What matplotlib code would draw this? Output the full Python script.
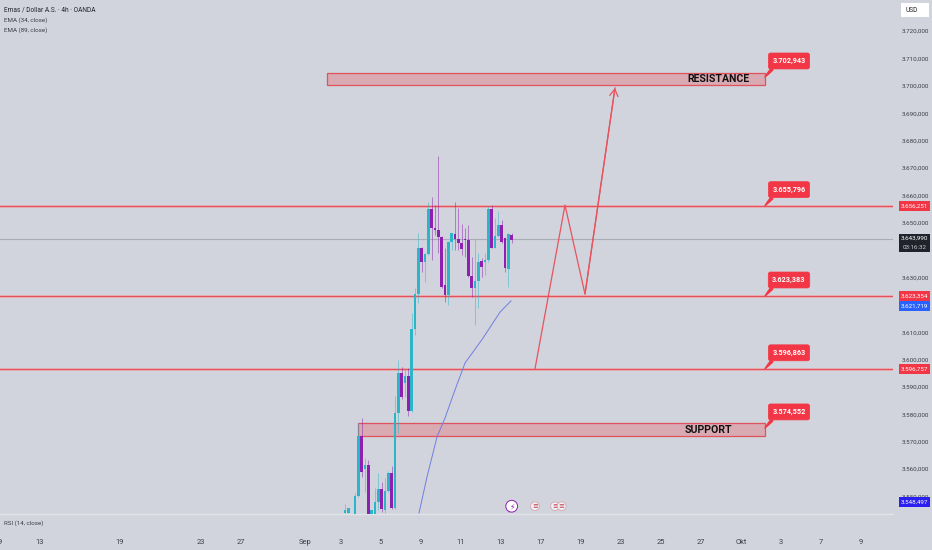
import matplotlib
matplotlib.use("Agg")
import matplotlib.pyplot as plt
from matplotlib.patches import Rectangle

plt.rcParams["font.family"] = ["Roboto", "DejaVu Sans"]

# 4h candles (bar number = position in list)
opens = [3543.9, 3543.9, 3541.0, 3543.6, 3550.2, 3572.0, 3560.0, 3561.4, 3543.6, 3543.6,
         3548.0, 3552.7, 3545.0, 3552.0, 3558.5, 3545.7, 3580.5, 3595.0, 3591.4, 3594.0,
         3581.2, 3611.1, 3623.9, 3640.7, 3635.6, 3638.5, 3655.0, 3648.0, 3647.3, 3644.8,
         3627.2, 3623.6, 3642.9, 3645.8, 3644.0, 3642.6, 3644.0, 3643.6, 3630.5, 3626.1,
         3628.7, 3636.0, 3635.6, 3636.3, 3655.0, 3640.7, 3645.1, 3649.1, 3644.4, 3633.0,
         3645.5]
closes = [3545.0, 3545.7, 3542.0, 3550.2, 3572.0, 3559.0, 3561.4, 3543.6, 3545.0, 3548.0,
          3552.7, 3545.4, 3552.0, 3558.5, 3545.7, 3580.5, 3595.0, 3586.3, 3594.0, 3581.2,
          3611.1, 3623.9, 3640.7, 3635.6, 3638.5, 3655.0, 3648.0, 3647.3, 3644.8, 3626.5,
          3623.6, 3642.9, 3646.2, 3644.0, 3642.6, 3640.4, 3643.6, 3630.5, 3626.1, 3628.7,
          3635.6, 3633.8, 3636.3, 3655.0, 3640.7, 3645.1, 3649.1, 3642.9, 3633.4, 3645.8,
          3643.6]
highs = [3547.2, 3545.7, 3543.0, 3551.2, 3576.8, 3578.6, 3564.0, 3563.3, 3545.0, 3553.0,
         3558.5, 3555.2, 3556.7, 3559.3, 3561.1, 3586.7, 3599.8, 3597.2, 3596.9, 3596.9,
         3617.0, 3626.1, 3646.2, 3641.1, 3638.9, 3657.5, 3659.3, 3656.4, 3674.3, 3645.1,
         3640.7, 3643.3, 3646.2, 3657.5, 3655.3, 3649.5, 3648.0, 3649.1, 3637.4, 3644.0,
         3638.9, 3637.1, 3638.9, 3656.1, 3656.4, 3651.7, 3654.2, 3651.0, 3644.4, 3646.2,
         3646.2]
lows = [3543.6, 3543.6, 3540.0, 3543.6, 3549.8, 3557.1, 3551.6, 3543.6, 3543.6, 3543.6,
        3545.0, 3544.3, 3543.9, 3551.6, 3545.4, 3545.4, 3573.1, 3585.6, 3586.3, 3579.3,
        3580.8, 3608.9, 3620.6, 3632.0, 3628.3, 3638.2, 3636.3, 3645.5, 3638.9, 3626.1,
        3621.0, 3619.9, 3640.0, 3640.0, 3640.0, 3638.2, 3637.4, 3630.1, 3622.8, 3612.6,
        3618.8, 3630.1, 3630.9, 3635.6, 3640.7, 3640.7, 3644.8, 3642.6, 3631.9, 3626.5,
        3642.6]

ema_bars = [22.2, 24.6, 27.6, 30, 33, 36, 41.4, 43, 46.5, 49.8]
ema_vals = [3543.9, 3557.1, 3571.7, 3578.6, 3588.9, 3598.7, 3607.8, 3610.8, 3617.3, 3621.4]

level_prices = [3656.2, 3623.2, 3596.6]
last_price = 3643.99

resistance_zone = (-5.4, 126, 3700.3, 3704.7)
support_zone = (3.9, 126, 3571.9, 3576.8)

path_bars = [57, 66, 72, 81]
path_prices = [3596.6, 3656.4, 3623.9, 3699.2]

callout_labels = ["3.702,943", "3.655,796", "3.623,383", "3.596,863", "3.574,552"]
callout_prices = [3703.2, 3656.2, 3623.2, 3596.6, 3575.0]

y_ticks = [v for v in range(3550, 3730, 10) if v not in (3620, 3640)]
x_ticks = [-103.5, -91.5, -67.5, -43.2, -31.2, -12, -1.2, 10.8, 22.8, 34.8, 46.8,
           58.8, 70.8, 82.8, 94.8, 106.8, 118.8, 130.8, 142.8, 154.8]
x_labels = ["9", "13", "19", "23", "27", "Sep", "3", "5", "9", "11", "13", "17", "19",
            "23", "25", "27", "Okt", "3", "7", "9"]

tag_labels = ["3.656,251", "3.623,354", "3.621,719", "3.596,757", "3.548,497"]
tag_prices = [3656.2, 3623.2, 3619.5, 3596.6, 3547.9]
tag_colors = ["#f23645", "#f23645", "#2962ff", "#f23645", "#2a1ff0"]

BG = "#d1d4dc"
RED = "#f23645"
LINE = "#e0525c"
UP = "#2bb6c8"
DOWN = "#8e1fb0"

fig = plt.figure(figsize=(9.32, 5.5), dpi=100, facecolor=BG)
ax = fig.add_axes([0, 36 / 550, 893 / 932, 514 / 550], facecolor=BG)
ax.set_xlim(-103.5, 164.4)
ax.set_ylim(3543.56, 3731.32)
for s in ax.spines.values():
    s.set_visible(False)
ax.spines["bottom"].set_visible(True)
ax.spines["bottom"].set_color("#e2e4ea")
ax.spines["bottom"].set_linewidth(1.0)

ax.yaxis.tick_right()
ax.set_yticks(y_ticks)
ax.set_yticklabels([f"3.{v - 3000},000" for v in y_ticks], fontsize=4.5, color="#3c3f47")
ax.tick_params(axis="y", length=0, pad=6.5)
ax.set_xticks(x_ticks)
ax.set_xticklabels(x_labels, fontsize=5.4, color="#3c3f47")
ax.tick_params(axis="x", length=0, pad=17.8)

# price levels and zones
ax.axhline(last_price, color="#a9adb6", lw=0.8, zorder=1)
for p in level_prices:
    ax.axhline(p, color="#eeb4b8", lw=2.0, zorder=1)
    ax.axhline(p, color=LINE, lw=0.9, zorder=1.1)

for x0, x1, y0, y1 in [resistance_zone, support_zone]:
    ax.add_patch(Rectangle((x0, y0), x1 - x0, y1 - y0, facecolor="#d9aab2",
                           edgecolor=LINE, lw=0.9, zorder=1.2))

# candles
for i, (o, c, h, l) in enumerate(zip(opens, closes, highs, lows)):
    col = UP if c >= o else DOWN
    ax.vlines(i, l, h, color=col, lw=0.7, alpha=0.5, zorder=2)
    ax.bar(i, abs(c - o), bottom=min(o, c), width=0.85, color=col, linewidth=0, zorder=3)

ax.plot(ema_bars, ema_vals, color="#6f7fe0", lw=0.7, zorder=2.5)

# projected path
ax.plot(path_bars, path_prices, color="#e8535d", lw=0.9, zorder=3)
ax.annotate("", xy=(path_bars[-1], path_prices[-1]), xytext=(path_bars[-2], path_prices[-2]),
            arrowprops=dict(arrowstyle="->,head_length=0.5,head_width=0.3", color="#e8535d", lw=0.9,
                            shrinkA=0, shrinkB=0), zorder=3)

ax.text(112, 3702.4, "RESISTANCE", fontsize=7.6, fontweight="bold",
        color="#111111", ha="center", va="center", zorder=4)
ax.text(109, 3574.3, "SUPPORT", fontsize=7.6, fontweight="bold",
        color="#111111", ha="center", va="center", zorder=4)

# callouts
for label, p in zip(callout_labels, callout_prices):
    ax.annotate(label, xy=(126, p), xytext=(24, 16), textcoords="offset pixels",
                fontsize=5.2, fontweight="bold", color="white", ha="center", va="center",
                bbox=dict(boxstyle="round,pad=0.55,rounding_size=0.3", fc=RED, ec=RED, lw=0.5),
                arrowprops=dict(arrowstyle="wedge,tail_width=0.35,shrink_factor=0.6", fc=RED, ec=RED,
                                shrinkA=0, shrinkB=0, relpos=(0.1, 0.0)),
                zorder=6)

# axis tags
ty = ax.get_yaxis_transform()
px = 0.3653
for label, p, col in zip(tag_labels, tag_prices, tag_colors):
    ax.add_patch(Rectangle((899 / 893, p - 4.9 * px), 31 / 893, 9.8 * px, facecolor=col,
                           transform=ty, clip_on=False, zorder=7))
    ax.text(914.5 / 893, p, label, transform=ty, fontsize=4.5, color="white",
            ha="center", va="center", zorder=8, clip_on=False)

ax.add_patch(Rectangle((899 / 893, last_price - 12.5 * px), 31 / 893, 18 * px, facecolor="#20232b",
                       transform=ty, clip_on=False, zorder=7))
ax.text(914.5 / 893, last_price + 0.6 * px, "3.643,990", transform=ty, fontsize=4.5, color="white",
        ha="center", va="center", zorder=8, clip_on=False)
ax.text(914.5 / 893, last_price - 8 * px, "03:16:32", transform=ty, fontsize=4.5, color="#c8cad0",
        ha="center", va="center", zorder=8, clip_on=False)

# event icons on the bottom of the chart
ax.plot([49.2, 50.6], [3544.2, 3546.2], color="#8e8e9a", lw=0.6, zorder=4)
ax.text(50.0, 3546.4, "⚡", fontsize=5.5, color=DOWN, ha="center", va="center", zorder=6,
        family=["DejaVu Sans"],
        bbox=dict(boxstyle="circle,pad=0.18", fc="white", ec=DOWN, lw=0.7))
for b in [57.0, 63.0, 65.0]:
    ax.text(b, 3546.4, "≡", fontsize=5, color="#c23a48", ha="center", va="center", zorder=6,
            family=["DejaVu Sans"],
            bbox=dict(boxstyle="circle,pad=0.2", fc="#eef0f6", ec="#d9a5ae", lw=0.6))

# header text and footer
fig.text(4 / 932, 1 - 10 / 550, "Emas / Dollar A.S. · 4h · OANDA", fontsize=4.7, color="#23262e", va="center")
fig.text(4 / 932, 1 - 20.5 / 550, "EMA (34, close)", fontsize=4.5, color="#3c3f47", va="center")
fig.text(4 / 932, 1 - 30 / 550, "EMA (89, close)", fontsize=4.5, color="#3c3f47", va="center")
fig.text(4 / 932, 1 - 523 / 550, "RSI (14, close)", fontsize=4.5, color="#3c3f47", va="center")

fig.patches.append(Rectangle((901 / 932, 1 - 17 / 550), 28 / 932, 14 / 550, facecolor="white",
                             edgecolor="none", transform=fig.transFigure))
fig.text(905 / 932, 1 - 10 / 550, "USD", fontsize=4.8, color="#23262e", va="center")

fig.savefig("out.png", dpi=100, facecolor=BG)
